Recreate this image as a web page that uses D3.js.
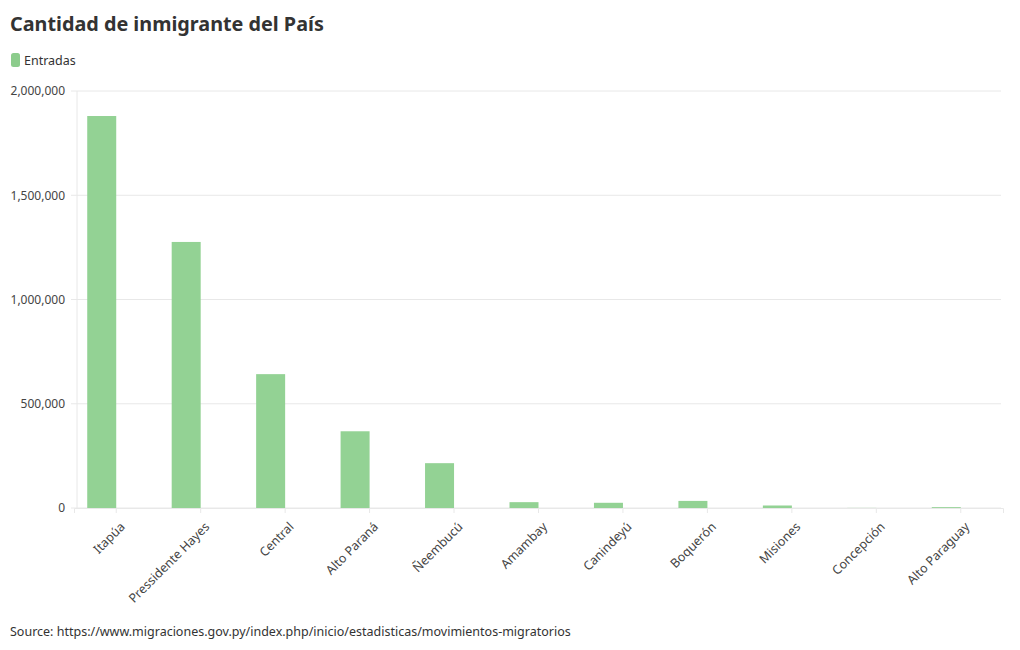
<!DOCTYPE html>
<html>
<head>
<meta charset="utf-8">
<script src="https://cdn.jsdelivr.net/npm/d3@7"></script>
<style>
  body { margin: 0; background: #fff; font-family: "Source Sans Pro", "Noto Sans", sans-serif; }
</style>
</head>
<body>
<div class="chart"></div>
<script>
const departamentos = ["Itapúa", "Pressidente Hayes", "Central", "Alto Paraná", "Ñeembucú", "Amambay",
  "Canindeyú", "Boquerón", "Misiones", "Concepción", "Alto Paraguay"]
const entradas = [1880000, 1276000, 642000, 368000, 215000, 28000, 25000, 34000, 12000, 500, 4000]
const yTicks = [0, 500000, 1000000, 1500000, 2000000]

const width = 1020
const height = 650
const margin = { top: 91, right: 19, bottom: 142, left: 76 }
const graphWidth = width - margin.left - margin.right
const graphHeight = height - margin.top - margin.bottom
const font = "'Noto Sans', sans-serif"

const svg = d3.select(".chart").append("svg").attr("width", width).attr("height", height)

// titulo y leyenda
svg.append("text")
  .attr("x", 10).attr("y", 31)
  .attr("font-family", font).attr("font-weight", 700).attr("font-size", 19.8)
  .attr("fill", "#333")
  .text("Cantidad de inmigrante del País")

svg.append("rect").attr("x", 11).attr("y", 53).attr("width", 9).attr("height", 14).attr("rx", 2.5).attr("fill", "#8ccc8c")
svg.append("text").attr("x", 24).attr("y", 65)
  .attr("font-family", font).attr("font-size", 12.5).attr("fill", "#333").text("Entradas")

const graph = svg.append("g").attr("transform", `translate(${margin.left}, ${margin.top})`)

const xScale = d3.scaleBand().range([-2, graphWidth + 2]).domain(departamentos)
const yScale = d3.scaleLinear().range([graphHeight, 0]).domain([0, 2000000])

// grid
graph.append("g").selectAll("line").data(yTicks).join("line")
  .attr("x1", -5).attr("x2", graphWidth)
  .attr("y1", d => yScale(d)).attr("y2", d => yScale(d))
  .attr("stroke", "#e8e8e8")
graph.append("line").attr("x1", 1).attr("x2", 1).attr("y1", 0).attr("y2", graphHeight).attr("stroke", "#e8e8e8")

const yAxis = d3.axisLeft(yScale).tickValues(yTicks).tickSize(0).tickPadding(11).tickFormat(d3.format(","))
graph.append("g").call(yAxis)
  .call(g => g.select(".domain").remove())
  .call(g => g.selectAll("text").attr("font-family", font).attr("font-size", 12).attr("fill", "#444"))

// barras
const barWidth = 29
graph.selectAll(".bar").data(departamentos).join("rect")
  .attr("class", "bar")
  .attr("x", d => xScale(d) + xScale.bandwidth() / 2 - barWidth)
  .attr("width", barWidth)
  .attr("y", (d, i) => yScale(entradas[i]))
  .attr("height", (d, i) => graphHeight - yScale(entradas[i]))
  .attr("fill", "#93d294")

const xAxis = d3.axisBottom(xScale).tickSize(5).tickPadding(4)
graph.append("g").attr("transform", `translate(0, ${graphHeight})`).call(xAxis)
  .call(g => g.select(".domain").attr("stroke", "#e8e8e8"))
  .call(g => g.selectAll(".tick line").attr("stroke", "#e8e8e8"))
  .call(g => g.selectAll("text")
    .attr("font-family", font).attr("font-size", 12.5).attr("fill", "#444")
    .attr("text-anchor", "end")
    .attr("dy", "0.35em")
    .attr("transform", "translate(0, 10) rotate(-45)"))

svg.append("text").attr("x", 10).attr("y", 636)
  .attr("font-family", font).attr("font-size", 12.5).attr("fill", "#333")
  .text("Source: https://www.migraciones.gov.py/index.php/inicio/estadisticas/movimientos-migratorios")
</script>
</body>
</html>
